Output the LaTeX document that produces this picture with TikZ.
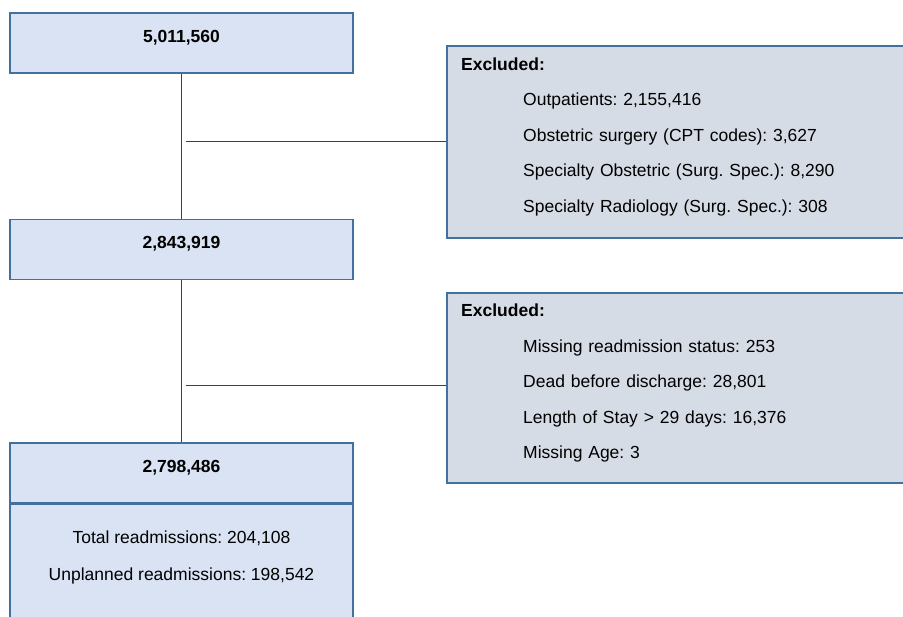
\documentclass[tikz,border=0pt]{standalone}
\usepackage{fontspec}
\setmainfont{Liberation Sans}
\usetikzlibrary{positioning}
\definecolor{boxblue}{HTML}{DAE3F3}
\definecolor{boxgrey}{HTML}{D6DCE5}
\definecolor{boxline}{HTML}{41719C}
\definecolor{linkline}{HTML}{404040}
\frenchspacing

\begin{document}
\begin{tikzpicture}[x=1pt,y=-1pt,node distance=206.5pt,on grid,
		countbox/.style={draw=boxline,fill=boxblue,line width=1.5pt,minimum width=343pt,minimum height=60pt,
			font=\fontsize{17.5}{21}\selectfont\bfseries,text height=12.5pt,text depth=14pt},
		exclbox/.style={draw=boxline,fill=boxgrey,line width=1.5pt,minimum width=473pt,minimum height=192pt},
		listtext/.style={align=left,text width=430pt,inner sep=0pt,anchor=base west,font=\fontsize{17.5}{35.5}\selectfont},
		link/.style={draw=linkline,line width=1pt}]
			\clip (0,0) rectangle (903,617);
			% left column
			\node[countbox] (n_0) at (181.5,43) {5,011,560};
			\node[countbox] (n_1) [below=of n_0] {2,843,919};
			\node[countbox] (n_2) [below=223.5pt of n_1] {2,798,486};
			\node[countbox, minimum height=137pt, anchor=north] (n_3) at (n_2.south) {};
			\node[font=\fontsize{17.5}{37}\selectfont, align=center] (res) at (181.5,557.5) {Total readmissions: 204,108\\Unplanned readmissions: 198,542};
			% exclusions
			\node[exclbox] (x_0) at (683.5,142) {};
			\node[exclbox, minimum height=190pt] (x_1) at (683.5,388) {};
			\node[listtext] (x_0t) at (461,70.3) {\textbf{Excluded:}\\
				\hspace*{62pt}Outpatients: 2,155,416\\
				\hspace*{62pt}Obstetric surgery (CPT codes): 3,627\\
				\hspace*{62pt}Specialty Obstetric (Surg. Spec.): 8,290\\
				\hspace*{62pt}Specialty Radiology (Surg. Spec.): 308};
			\node[listtext] (x_1t) at (461,316.8) {\textbf{Excluded:}\\
				\hspace*{62pt}Missing readmission status: 253\\
				\hspace*{62pt}Dead before discharge: 28,801\\
				\hspace*{62pt}Length of Stay > 29 days: 16,376\\
				\hspace*{62pt}Missing Age: 3};
			\coordinate (j_0) at (186,142);
			\coordinate (j_1) at (186,386);
			\path[link]
			(n_0) edge (n_1)
			(n_1) edge (n_2)
			(j_0) edge (j_0 -| x_0.west)
			(j_1) edge (j_1 -| x_1.west);
		\end{tikzpicture}
\end{document}
